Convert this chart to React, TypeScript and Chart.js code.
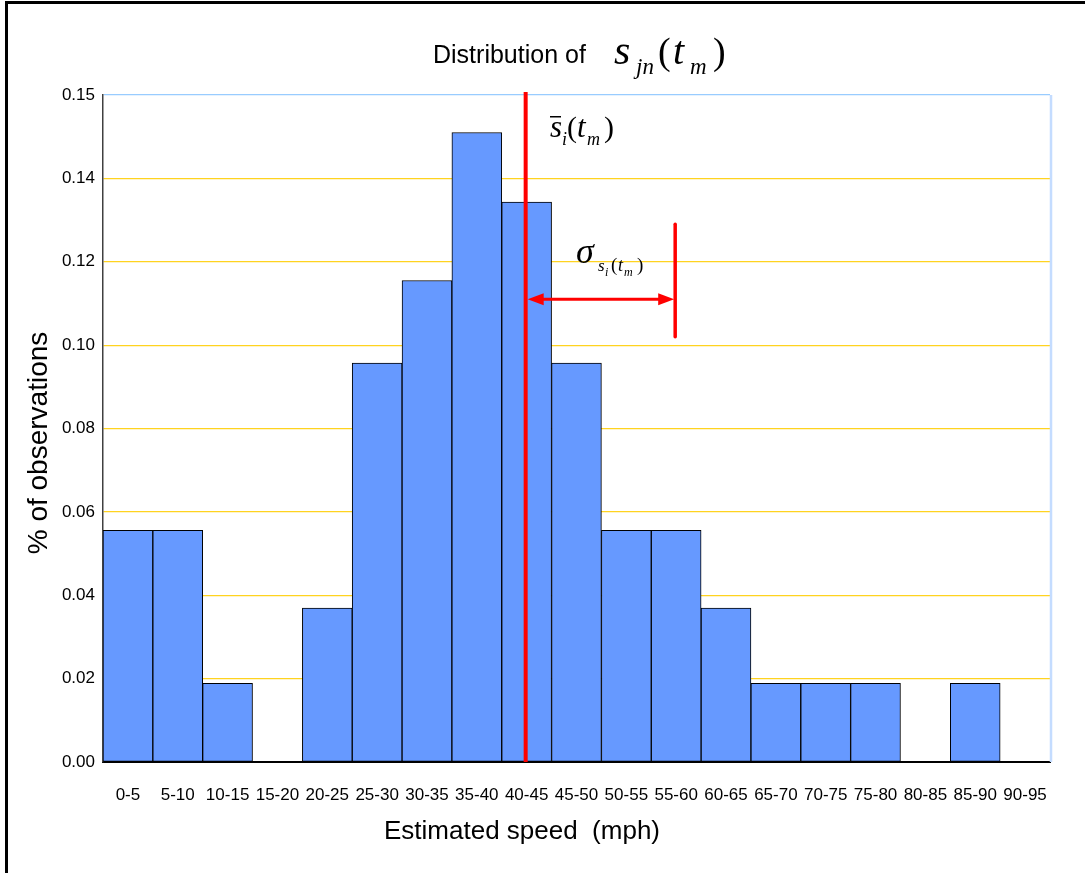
import React, { useEffect, useRef } from "react";
import { Chart, registerables } from "chart.js";

Chart.register(...registerables);

const categories = [
  "0-5", "5-10", "10-15", "15-20", "20-25", "25-30", "30-35", "35-40", "40-45", "45-50",
  "50-55", "55-60", "60-65", "65-70", "70-75", "75-80", "80-85", "85-90", "90-95",
];
const shares = [
  0.0556, 0.0556, 0.0189, 0, 0.0369, 0.0957, 0.1155, 0.151, 0.1343, 0.0957,
  0.0556, 0.0556, 0.0369, 0.0189, 0.0189, 0.0189, 0, 0.0189, 0,
];
const yTickValues = [0, 0.02, 0.04, 0.06, 0.08, 0.1, 0.12, 0.14, 0.16];
const yTickLabels = ["0.00", "0.02", "0.04", "0.06", "0.08", "0.10", "0.12", "0.14", "0.15"];

const binWidth = 5;
const meanSpeed = 42.4;
const sigmaSpeed = 15;
const sigmaBarTop = 0.129;
const sigmaBarBottom = 0.102;
const arrowLevel = 0.111;

const SANS = "'Liberation Sans', Arial, sans-serif";
const SERIF = "'Liberation Serif', 'Times New Roman', serif";

type Run = { t: string; x: number; y: number; size: number; italic?: boolean };

function drawRuns(ctx: CanvasRenderingContext2D, runs: Run[]) {
  ctx.save();
  ctx.fillStyle = "#000";
  ctx.textBaseline = "alphabetic";
  ctx.textAlign = "left";
  for (const r of runs) {
    ctx.font = `${r.italic ? "italic " : ""}${r.size}px ${SERIF}`;
    ctx.fillText(r.t, r.x, r.y);
  }
  ctx.restore();
}

const decorPlugin = {
  id: "decor",
  beforeDraw(chart: any) {
    const { ctx, width, height } = chart;
    ctx.save();
    ctx.fillStyle = "#fff";
    ctx.fillRect(0, 0, width, height);
    ctx.restore();
  },
  afterDraw(chart: any) {
    const { ctx, chartArea, scales } = chart;
    const x = scales.x;
    const y = scales.y;
    ctx.save();
    // outer frame
    ctx.fillStyle = "#000";
    ctx.fillRect(5, 1, 3, chart.height);
    ctx.fillRect(5, 1, chart.width, 3);
    // right plot border
    ctx.strokeStyle = "#C4DCFF";
    ctx.lineWidth = 2.5;
    ctx.beginPath();
    ctx.moveTo(chartArea.right + 1, chartArea.top);
    ctx.lineTo(chartArea.right + 1, chartArea.bottom);
    ctx.stroke();

    // title
    ctx.fillStyle = "#000";
    ctx.font = `25px ${SANS}`;
    ctx.textBaseline = "alphabetic";
    ctx.fillText("Distribution of", 433, 63);
    drawRuns(ctx, [
      { t: "s", x: 614, y: 64, size: 42, italic: true },
      { t: "jn", x: 636, y: 74, size: 23, italic: true },
      { t: "(", x: 658, y: 64, size: 38 },
      { t: "t", x: 673, y: 64, size: 40, italic: true },
      { t: "m", x: 690, y: 74, size: 23, italic: true },
      { t: ")", x: 713, y: 64, size: 38 },
    ]);

    // axis titles
    ctx.font = `26px ${SANS}`;
    ctx.textAlign = "center";
    ctx.textBaseline = "middle";
    ctx.fillText("Estimated speed  (mph)", 522, 832);
    ctx.save();
    ctx.translate(39, 443);
    ctx.rotate(-Math.PI / 2);
    ctx.font = `28px ${SANS}`;
    ctx.fillText("% of observations", 0, 0);
    ctx.restore();

    // mean line
    const toIdx = (s: number) => (s - binWidth / 2) / binWidth;
    const mx = x.getPixelForValue(toIdx(meanSpeed));
    const sx = x.getPixelForValue(toIdx(meanSpeed + sigmaSpeed));
    ctx.strokeStyle = "#FF0000";
    ctx.fillStyle = "#FF0000";
    ctx.lineCap = "butt";
    ctx.lineWidth = 4;
    ctx.beginPath();
    ctx.moveTo(mx, chartArea.top - 3);
    ctx.lineTo(mx, y.getPixelForValue(0));
    ctx.stroke();

    // sigma bar
    ctx.lineWidth = 3.5;
    ctx.lineCap = "round";
    ctx.beginPath();
    ctx.moveTo(sx, y.getPixelForValue(sigmaBarTop));
    ctx.lineTo(sx, y.getPixelForValue(sigmaBarBottom));
    ctx.stroke();

    // arrow
    const ay = y.getPixelForValue(arrowLevel);
    const ax1 = mx + 2;
    const ax2 = sx - 1;
    ctx.lineWidth = 3;
    ctx.lineCap = "butt";
    ctx.beginPath();
    ctx.moveTo(ax1 + 10, ay);
    ctx.lineTo(ax2 - 10, ay);
    ctx.stroke();
    ctx.beginPath();
    ctx.moveTo(ax1, ay);
    ctx.lineTo(ax1 + 16, ay - 6);
    ctx.lineTo(ax1 + 16, ay + 6);
    ctx.closePath();
    ctx.fill();
    ctx.beginPath();
    ctx.moveTo(ax2, ay);
    ctx.lineTo(ax2 - 16, ay - 6);
    ctx.lineTo(ax2 - 16, ay + 6);
    ctx.closePath();
    ctx.fill();

    // mean label
    drawRuns(ctx, [
      { t: "s", x: 550, y: 137, size: 31, italic: true },
      { t: "i", x: 562, y: 145, size: 18, italic: true },
      { t: "(", x: 567, y: 137, size: 30 },
      { t: "t", x: 577, y: 137, size: 31, italic: true },
      { t: "m", x: 587, y: 145, size: 18, italic: true },
      { t: ")", x: 604, y: 137, size: 30 },
    ]);
    ctx.fillStyle = "#000";
    ctx.fillRect(550, 116, 11, 1.5);

    // sigma label
    drawRuns(ctx, [
      { t: "σ", x: 576, y: 263, size: 36, italic: true },
      { t: "s", x: 598, y: 271, size: 17, italic: true },
      { t: "i", x: 605, y: 276, size: 12, italic: true },
      { t: "(", x: 611, y: 271, size: 19 },
      { t: "t", x: 618, y: 271, size: 18, italic: true },
      { t: "m", x: 624, y: 276, size: 12, italic: true },
      { t: ")", x: 637, y: 271, size: 19 },
    ]);
    ctx.restore();
  },
};

export default function App() {
  const ref = useRef<HTMLCanvasElement | null>(null);
  useEffect(() => {
    if (!ref.current) return;
    const chart = new Chart(ref.current, {
      type: "bar",
      data: {
        labels: categories,
        datasets: [
          {
            data: shares,
            backgroundColor: "#6699FF",
            borderColor: "#000000",
            borderWidth: 1,
            borderSkipped: false,
            barPercentage: 1,
            categoryPercentage: 1,
          },
        ],
      },
      options: {
        animation: false,
        responsive: false,
        devicePixelRatio: 1,
        layout: { padding: { top: 95, right: 35, left: 0, bottom: 0 } },
        plugins: { legend: { display: false }, title: { display: false }, tooltip: { enabled: false } },
        scales: {
          x: {
            grid: { display: false, drawTicks: false },
            border: { display: true, color: "#000", width: 2 },
            ticks: {
              color: "#000",
              font: { family: SANS, size: 17 },
              padding: 23,
              maxRotation: 0,
              autoSkip: false,
            },
            afterFit: (s: any) => {
              s.height = 111;
            },
          },
          y: {
            min: 0,
            max: 0.16,
            afterBuildTicks: (s: any) => {
              s.ticks = yTickValues.map((v) => ({ value: v }));
            },
            afterFit: (s: any) => {
              s.width = 103;
            },
            grid: {
              drawTicks: false,
              color: (c: any) =>
                c.index === 0 ? "rgba(0,0,0,0)" : c.index === yTickValues.length - 1 ? "#99CCFF" : "#FFD320",
              lineWidth: 1.2,
            },
            border: { display: true, color: "#404040", width: 1.5 },
            ticks: {
              color: "#000",
              font: { family: SANS, size: 17 },
              padding: 8,
              callback: (_v: any, i: number) => yTickLabels[i],
            },
          },
        },
      },
      plugins: [decorPlugin],
    });
    return () => chart.destroy();
  }, []);
  return (
    <div style={{ position: "absolute", left: 0, top: 0, width: 1085, height: 873, background: "#fff" }}>
      <canvas ref={ref} width={1085} height={873} style={{ display: "block" }} />
    </div>
  );
}
